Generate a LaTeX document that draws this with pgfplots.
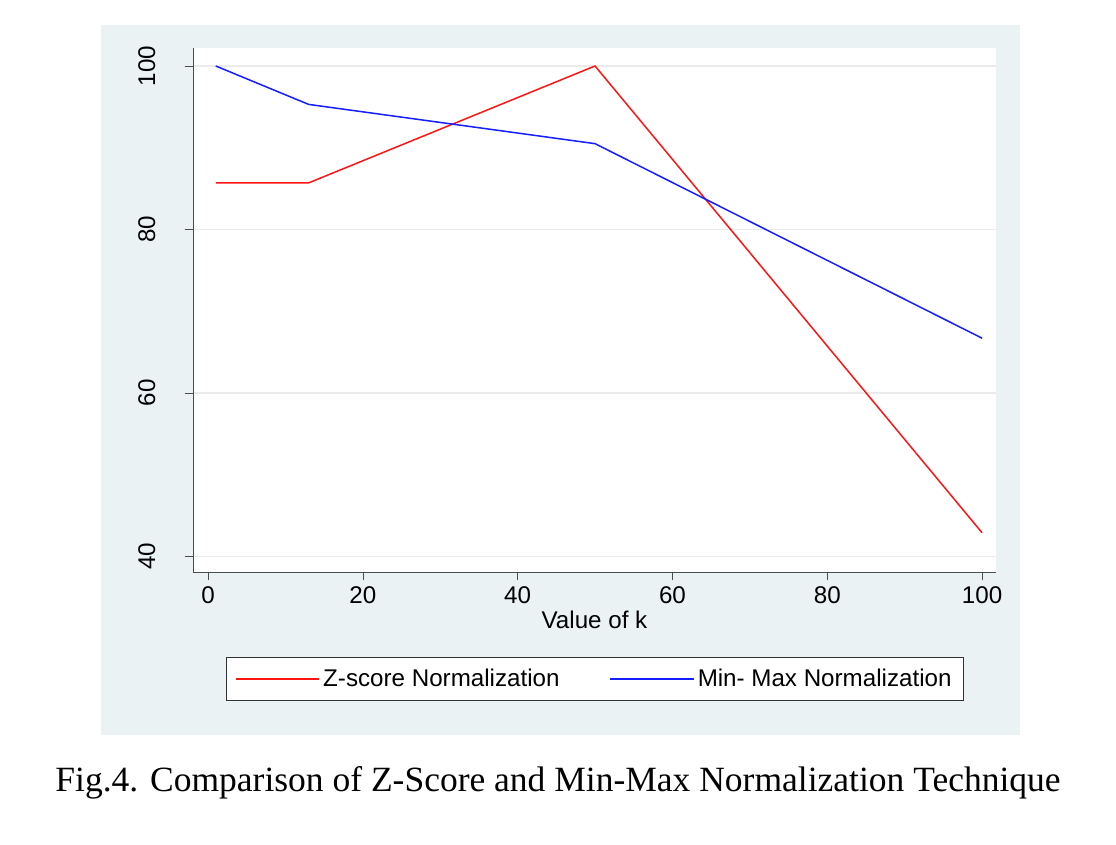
\documentclass[border=0pt]{standalone}
\usepackage{pgfplots}
\pgfplotsset{compat=1.18}
\usepackage{fontspec}
\setmainfont{Liberation Sans}
\newfontfamily\serif{Liberation Serif}
\definecolor{panel}{RGB}{234,242,243}
\definecolor{zred}{RGB}{255,20,20}
\definecolor{mblue}{RGB}{20,30,255}
\begin{document}
\begin{tikzpicture}
\useasboundingbox (-115.8pt,-163.2pt) rectangle (553.8pt,343.2pt);
\fill[panel] (-55.2pt,-97.8pt) rectangle (496.2pt,328.2pt);
\begin{axis}[at={(0,0)}, anchor=south west,
  scale only axis, width=481.8pt, height=314.4pt,
  axis background/.style={fill=white},
  xmin=-1.94, xmax=101.8, ymin=38.1, ymax=102.2,
  axis x line*=bottom, axis y line*=left,
  axis line style={black!70},
  xtick={0,20,...,100}, ytick={40,60,80,100},
  tick align=outside, major tick length=5pt,
  tick style={black!70},
  ymajorgrids, grid style={black!8, line width=0.8pt},
  yticklabel style={rotate=90, anchor=south},
  yticklabel shift=14pt,
  /pgf/number format/assume math mode=true,
  tick label style={font=\fontsize{14.5}{17}\selectfont},
  xlabel={Value of k}, xlabel style={font=\fontsize{14.5}{17}\selectfont, yshift=2pt},
  legend columns=2,
  legend style={at={(0.5006,-0.204)}, anchor=center, font=\fontsize{14.5}{17}\selectfont,
    draw=black!80, fill=white, inner xsep=5pt, inner ysep=5pt,
    /tikz/every even column/.append style={column sep=28pt}},
  legend image code/.code={\draw[#1, line width=0.9pt] (0pt,0pt) -- (50pt,0pt);},
  legend cell align=left,
]
\addplot[zred, line width=0.9pt] coordinates {(1,85.7) (13,85.7) (50,100) (100,42.9)};
\addlegendentry{Z-score Normalization}
\addplot[mblue, line width=0.9pt] coordinates {(1,100) (13,95.3) (50,90.5) (100,66.7)};
\addlegendentry{Min- Max Normalization}
\end{axis}
\node at (219pt,-126.5pt) {\serif\fontsize{21.3}{25}\selectfont Fig.4. Comparison of Z-Score and Min-Max Normalization Technique};
\end{tikzpicture}
\end{document}
